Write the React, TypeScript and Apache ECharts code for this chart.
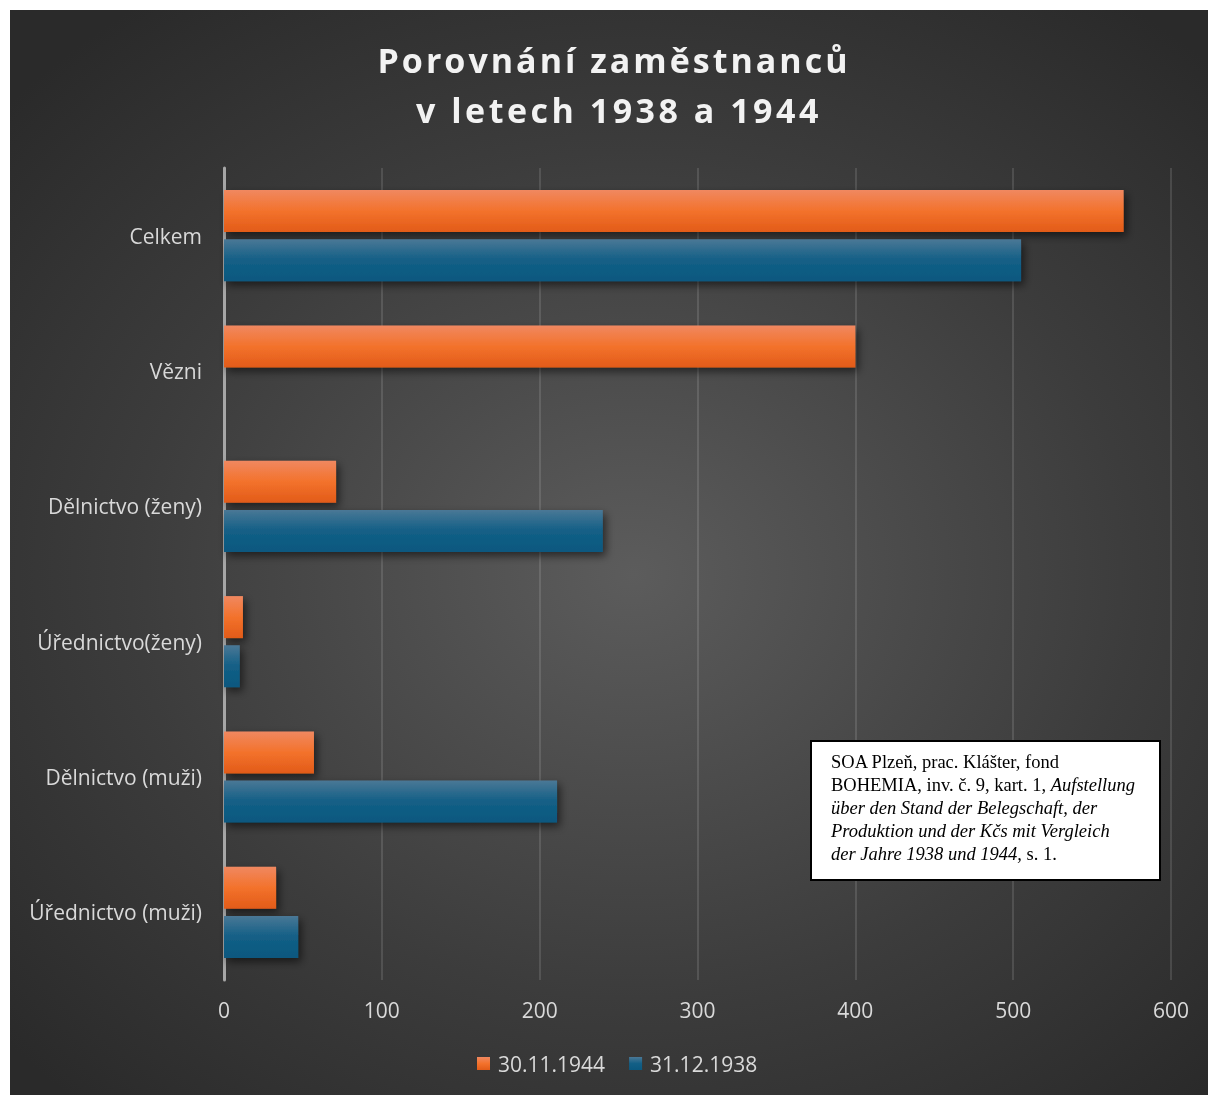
import React, { useEffect, useRef } from "react";
import * as echarts from "echarts";

const categories = [
  "Celkem",
  "Vězni",
  "Dělnictvo (ženy)",
  "Úřednictvo(ženy)",
  "Dělnictvo (muži)",
  "Úřednictvo (muži)",
];
const series1944 = [570, 400, 71, 12, 57, 33];
const series1938: (number | string)[] = [505, "-", 240, 10, 211, 47];
const seriesNames = ["30.11.1944", "31.12.1938"];
const xTicks = { min: 0, max: 600, interval: 100 };
const titleLines = ["Porovnání zaměstnanců", "v letech 1938 a 1944"];

const noteLines = [
  "{n|SOA Plzeň, prac. Klášter, fond}",
  "{n|BOHEMIA, inv. č. 9, kart. 1, }{i|Aufstellung}",
  "{i|über den Stand der Belegschaft, der}",
  "{i|Produktion und der Kčs mit Vergleich}",
  "{i|der Jahre 1938 und 1944,}{n| s. 1.}",
];

const orangeGrad = () =>
  new echarts.graphic.LinearGradient(0, 0, 0, 1, [
    { offset: 0, color: "#f08860" },
    { offset: 0.5, color: "#f3722c" },
    { offset: 1, color: "#e25b18" },
  ]);
const blueGrad = () =>
  new echarts.graphic.LinearGradient(0, 0, 0, 1, [
    { offset: 0, color: "#4a7896" },
    { offset: 0.5, color: "#135f86" },
    { offset: 1, color: "#0b587f" },
  ]);

export default function App() {
  const ref = useRef<HTMLDivElement>(null);
  useEffect(() => {
    if (!ref.current) return;
    const chart = echarts.init(ref.current, undefined, { renderer: "svg" });
    const font = "'Open Sans', 'Noto Sans', sans-serif";
    const serif = "'Liberation Serif', 'Times New Roman', serif";
    const barShadow = {
      shadowColor: "rgba(0,0,0,0.55)",
      shadowBlur: 8,
      shadowOffsetX: 3,
      shadowOffsetY: 4,
    };
    const titleStyle = {
      fontFamily: font,
      fontSize: 34,
      fontWeight: "bold",
      fill: "#f2f2f2",
      textAlign: "center",
      textVerticalAlign: "middle",
      shadowColor: "rgba(0,0,0,0.6)",
      shadowBlur: 4,
      shadowOffsetX: 1,
      shadowOffsetY: 2,
    };
    chart.setOption({
      animation: false,
      backgroundColor: "transparent",
      legend: {
        bottom: 16,
        left: 462,
        itemWidth: 13,
        itemHeight: 13,
        itemGap: 24,
        icon: "rect",
        textStyle: {
          fontFamily: font,
          fontSize: 21,
          color: "#d9d9d9",
          padding: [0, 0, 0, 3],
        },
        data: seriesNames,
      },
      grid: { left: 214, right: 37, top: 158, bottom: 115, containLabel: false },
      xAxis: {
        type: "value",
        min: xTicks.min,
        max: xTicks.max,
        interval: xTicks.interval,
        axisLine: { show: false },
        axisTick: { show: false },
        axisLabel: {
          fontFamily: font,
          fontSize: 21,
          color: "#d9d9d9",
          margin: 19,
        },
        splitLine: {
          show: true,
          lineStyle: { color: "rgba(255,255,255,0.12)", width: 2 },
        },
      },
      yAxis: {
        type: "category",
        inverse: true,
        data: categories,
        axisLine: { show: true, lineStyle: { color: "#a6a6a6", width: 3 } },
        axisTick: { show: false },
        axisLabel: {
          fontFamily: font,
          fontSize: 21,
          color: "#d9d9d9",
          margin: 22,
        },
      },
      series: [
        {
          name: seriesNames[0],
          type: "bar",
          data: series1944,
          barWidth: 42,
          barGap: "17%",
          itemStyle: { color: orangeGrad(), ...barShadow },
        },
        {
          name: seriesNames[1],
          type: "bar",
          data: series1938,
          barWidth: 42,
          barGap: "17%",
          itemStyle: { color: blueGrad(), ...barShadow },
        },
      ],
      graphic: [
        {
          type: "text",
          x: 604,
          y: 50,
          z: 100,
          style: { ...titleStyle, text: titleLines[0] },
        },
        {
          type: "text",
          x: 609,
          y: 100,
          z: 100,
          style: { ...titleStyle, text: titleLines[1] },
        },
        {
          type: "rect",
          left: 800,
          top: 730,
          shape: { width: 349, height: 139 },
          style: { fill: "#ffffff", stroke: "#000000", lineWidth: 2 },
          z: 100,
        },
        {
          type: "text",
          left: 821,
          top: 740,
          z: 101,
          style: {
            text: noteLines.join("\n"),
            fontFamily: serif,
            fontSize: 18.5,
            lineHeight: 23,
            fill: "#000",
            rich: {
              n: { fontFamily: serif, fontSize: 18.5, lineHeight: 23, color: "#000" },
              i: {
                fontFamily: serif,
                fontSize: 18.5,
                lineHeight: 23,
                fontStyle: "italic",
                color: "#000",
              },
            },
          },
        },
      ],
    });
    // widen the title letters like the original (tracked-out heading)
    const texts = ref.current.querySelectorAll("text");
    texts.forEach((t) => {
      const c = t.textContent || "";
      if (c === titleLines[0]) t.setAttribute("letter-spacing", "3");
      if (c === titleLines[1]) t.setAttribute("letter-spacing", "3.5");
    });
    return () => chart.dispose();
  }, []);
  return (
    <div
      style={{
        position: "fixed",
        left: 10,
        top: 10,
        width: 1198,
        height: 1085,
        background:
          "radial-gradient(ellipse 70% 65% at 52% 52%, #5c5c5c 0%, #3c3c3c 60%, #2a2a2a 100%)",
      }}
    >
      <div ref={ref} style={{ width: 1198, height: 1085 }} />
    </div>
  );
}
